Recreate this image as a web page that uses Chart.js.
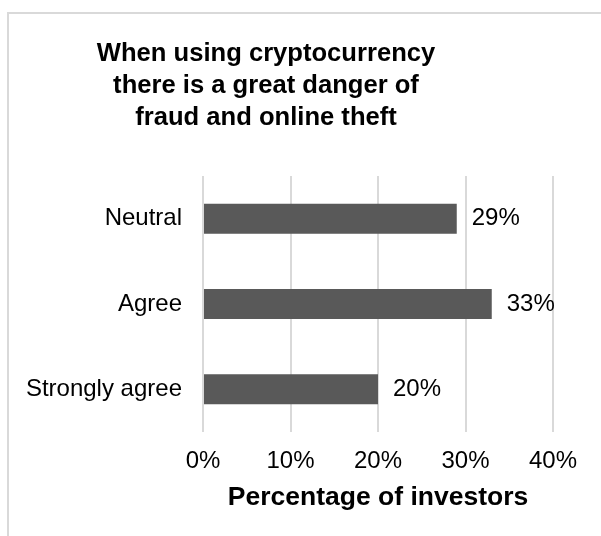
<!DOCTYPE html>
<html>
<head>
<meta charset="utf-8">
<script src="https://cdn.jsdelivr.net/npm/chart.js@4/dist/chart.umd.min.js"></script>
<style>
  html, body { margin: 0; padding: 0; background: #fff; }
  #wrap { position: relative; width: 601px; height: 536px; overflow: hidden; }
  #frame { position: absolute; left: 7px; top: 12px; width: 700px; height: 700px;
           border: 2px solid #d9d9d9; box-sizing: border-box; }
  canvas { position: absolute; left: 0; top: 0; }
</style>
</head>
<body>
<div id="wrap">
  <div id="frame"></div>
  <canvas id="c" width="601" height="536"></canvas>
</div>
<script>
// Survey answers, top to bottom
const categories = ['Neutral', 'Agree', 'Strongly agree'];
// Share of investors for each answer (%)
const shares = [29, 33, 20];
// Horizontal axis ticks (%)
const xTicks = [0, 10, 20, 30, 40];

const titleLines = [
  'When using cryptocurrency',
  'there is a great danger of',
  'fraud and online theft'
];

const FONT = '"Liberation Sans", Arial, Helvetica, sans-serif';

// Heading drawn above the plot
const headingPlugin = {
  id: 'heading',
  afterDraw(chart) {
    const ctx = chart.ctx;
    ctx.save();
    ctx.font = 'bold 25.6px ' + FONT;
    ctx.fillStyle = '#000';
    ctx.textAlign = 'center';
    ctx.textBaseline = 'alphabetic';
    const cx = 266;
    titleLines.forEach((t, i) => ctx.fillText(t, cx, 61 + i * 32));
    ctx.restore();
  }
};

// Value labels to the right of each bar
const valueLabels = {
  id: 'valueLabels',
  afterDatasetsDraw(chart) {
    const ctx = chart.ctx;
    const meta = chart.getDatasetMeta(0);
    ctx.save();
    ctx.font = '24px ' + FONT;
    ctx.fillStyle = '#000';
    ctx.textAlign = 'left';
    ctx.textBaseline = 'middle';
    meta.data.forEach((bar, i) => {
      ctx.fillText(shares[i] + '%', bar.x + 15, bar.y);
    });
    ctx.restore();
  }
};

new Chart(document.getElementById('c'), {
  type: 'bar',
  data: {
    labels: categories,
    datasets: [{
      data: shares,
      backgroundColor: '#595959',
      borderWidth: 0,
      categoryPercentage: 1,
      barPercentage: 0.352
    }]
  },
  options: {
    indexAxis: 'y',
    responsive: false,
    animation: false,
    devicePixelRatio: 1,
    layout: { padding: { top: 176, right: 48, bottom: 0, left: 0 } },
    plugins: {
      legend: { display: false },
      tooltip: { enabled: false },
      title: { display: false }
    },
    scales: {
      x: {
        min: 0,
        max: 40,
        afterBuildTicks(scale) { scale.ticks = xTicks.map(v => ({ value: v })); },
        afterFit(scale) { scale.height = 104; },
        grid: { color: '#d9d9d9', lineWidth: 2, drawTicks: false },
        border: { display: false },
        ticks: {
          padding: 15,
          color: '#000',
          font: { family: FONT, size: 24 },
          callback: v => v + '%'
        },
        title: {
          display: true,
          text: 'Percentage of investors',
          color: '#000',
          font: { family: FONT, size: 26.5, weight: 'bold' },
          padding: { top: 0, bottom: 22 }
        }
      },
      y: {
        afterFit(scale) { scale.width = 203; },
        grid: { display: false, drawTicks: false },
        border: { display: false },
        ticks: {
          padding: 21,
          color: '#000',
          font: { family: FONT, size: 24 }
        }
      }
    }
  },
  plugins: [headingPlugin, valueLabels]
});
</script>
</body>
</html>
